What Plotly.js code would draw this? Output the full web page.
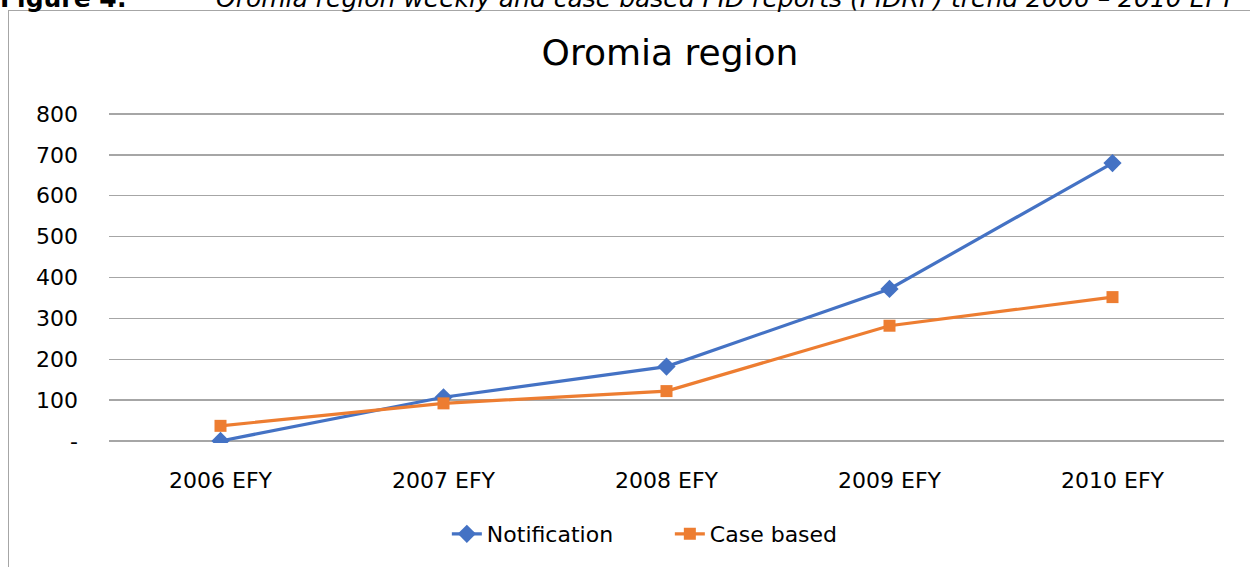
<!DOCTYPE html>
<html>
<head>
<meta charset="utf-8">
<script src="https://cdn.plot.ly/plotly-3.0.1.min.js"></script>
<style>
  html, body { margin: 0; padding: 0; background: #fff; overflow: hidden; }
  #wrap { position: relative; width: 1250px; height: 567px; overflow: hidden; }
  #chart { position: absolute; left: 0; top: 0; width: 1250px; height: 567px; }
  #frame { position: absolute; left: 8px; top: 10px; width: 1300px; height: 700px;
           border: 1.5px solid #a6a6a6; pointer-events: none; box-sizing: border-box; }
  #caption { position: absolute; left: 0; top: -14px; width: 1500px; height: 25px;
             font-family: "DejaVu Sans", sans-serif; font-size: 25px; line-height: 25px;
             color: #000; white-space: nowrap; }
  #caption .fig { position: absolute; left: 0; font-weight: bold; }
  #caption .txt { position: absolute; left: 216px; font-style: italic; }
</style>
</head>
<body>
<div id="wrap">
  <div id="chart"></div>
  <div id="frame"></div>
  <div id="caption"><span class="fig">Figure 4:</span><span class="txt">Oromia region weekly and case based PID reports (PIDRF) trend 2006 – 2010 EFY</span></div>
</div>
<script>
// ---- data ----
const categories = ["2006 EFY", "2007 EFY", "2008 EFY", "2009 EFY", "2010 EFY"];
const notification = [0, 107, 182, 372, 680];
const caseBased = [37, 92, 122, 282, 352];
const yTickVals = [0, 100, 200, 300, 400, 500, 600, 700, 800];
const yTickText = ["-", "100", "200", "300", "400", "500", "600", "700", "800"];
const seriesNames = ["Notification", "Case based"];

const font = "DejaVu Sans, sans-serif";

const traces = [
  {
    x: categories, y: notification, name: seriesNames[0],
    type: "scatter", mode: "lines+markers",
    line: { color: "#4472C4", width: 3.2 },
    marker: { symbol: "diamond", size: 14, color: "#4472C4" }
  },
  {
    x: categories, y: caseBased, name: seriesNames[1],
    type: "scatter", mode: "lines+markers",
    line: { color: "#ED7D31", width: 3.2 },
    marker: { symbol: "square", size: 12, color: "#ED7D31" }
  }
];

const layout = {
  width: 1250, height: 567,
  margin: { l: 109, r: 26, t: 112, b: 122 },
  paper_bgcolor: "#ffffff", plot_bgcolor: "#ffffff",
  font: { family: font, size: 22, color: "#000" },
  title: {
    text: "Oromia region",
    font: { family: font, size: 36, color: "#000" },
    x: 0.536, xanchor: "center", y: 0.908, yanchor: "middle"
  },
  xaxis: {
    type: "category",
    range: [-0.5, 4.5],
    showgrid: false, zeroline: false, showline: false,
    ticks: "", ticklabelstandoff: 22,
    tickfont: { family: font, size: 22, color: "#000" },
    fixedrange: true
  },
  yaxis: {
    range: [-5, 805],
    tickvals: yTickVals, ticktext: yTickText,
    showgrid: true, gridcolor: "#a6a6a6", gridwidth: 1.3,
    zeroline: false, showline: false, ticks: "",
    ticklabelstandoff: 30,
    tickfont: { family: font, size: 22, color: "#000" },
    fixedrange: true
  },
  showlegend: true,
  legend: {
    orientation: "h", x: 0.303, xanchor: "left", y: -0.275, yanchor: "middle",
    font: { family: font, size: 22, color: "#000" },
    entrywidth: 178, entrywidthmode: "pixels", tracegroupgap: 0
  }
};

Plotly.newPlot("chart", traces, layout, { displayModeBar: false, staticPlot: true });
</script>
</body>
</html>
